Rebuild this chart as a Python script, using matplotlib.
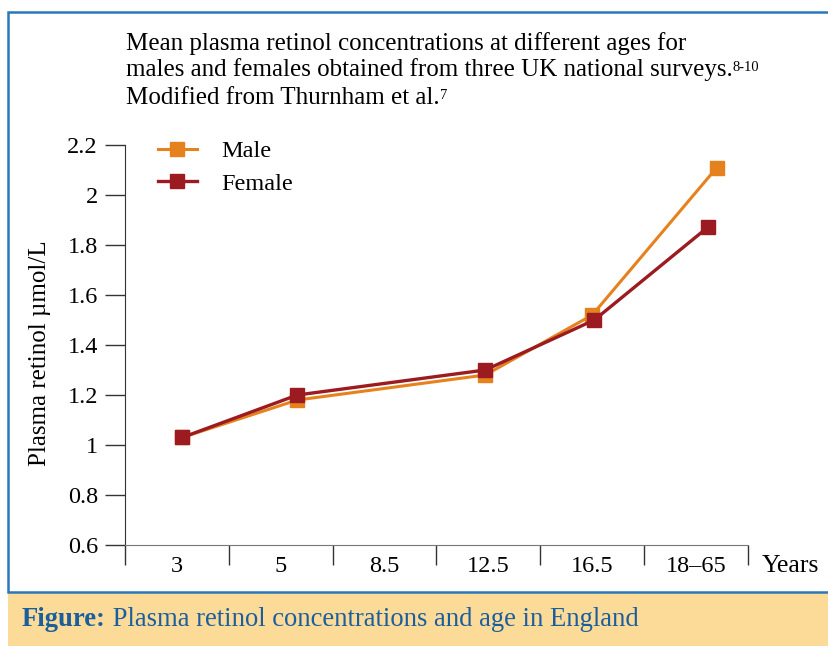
import matplotlib.pyplot as plt
from matplotlib.patches import Rectangle

plt.rcParams['font.family'] = ['Liberation Serif', 'DejaVu Serif']

# data
categories = ['3', '5', '8.5', '12.5', '16.5', '18–65']
male_x = [0.05, 1.16, 2.97, 4.0, 5.2]
male_y = [1.03, 1.18, 1.28, 1.52, 2.11]
female_x = [0.05, 1.16, 2.97, 4.02, 5.11]
female_y = [1.03, 1.20, 1.30, 1.50, 1.87]
yticks = [0.6, 0.8, 1.0, 1.2, 1.4, 1.6, 1.8, 2.0, 2.2]
ytick_labels = ['0.6', '0.8', '1', '1.2', '1.4', '1.6', '1.8', '2', '2.2']

ORANGE = '#E5821E'
RED = '#9B1B20'
BLUE = '#2A78BA'
CAP_BLUE = '#1A5E9E'
W, H = 829, 646

fig = plt.figure(figsize=(W / 100, H / 100), dpi=100)

# frame and caption band
fig.patches.append(Rectangle((8 / W, 0), 1, 54 / H, transform=fig.transFigure,
                             facecolor='#FCDB98', edgecolor='none', zorder=0))
fig.patches.append(Rectangle((8 / W, 1 - 592 / H), 1, (592 - 12) / H, transform=fig.transFigure,
                             facecolor='white', edgecolor=BLUE, lw=1.8, zorder=0))

ax = fig.add_axes([125 / W, 1 - 545 / H, (748 - 125) / W, 400 / H])
ax.set_zorder(2)
ax.patch.set_visible(False)
ax.plot(male_x, male_y, color=ORANGE, lw=2.2, marker='s', ms=9.5, label='Male', zorder=3)
ax.plot(female_x, female_y, color=RED, lw=2.4, marker='s', ms=9.5, label='Female', zorder=4)

ax.set_xlim(-0.5, len(categories) - 0.5)
ax.set_ylim(0.6, 2.2)
ax.set_yticks(yticks)
ax.set_yticklabels(ytick_labels)
ax.set_xticks(range(len(categories)))
ax.set_xticklabels(categories)
ax.set_xticks([i - 0.5 for i in range(len(categories) + 1)], minor=True)
ax.tick_params(axis='x', which='major', length=0, pad=8, labelsize=17.5)
ax.tick_params(axis='x', which='minor', length=14.5, width=1, color='#333333', direction='out')
ax.tick_params(axis='y', length=14.5, width=1, color='#333333', pad=5, labelsize=17.5)
for s in ['top', 'right']:
    ax.spines[s].set_visible(False)
ax.spines['bottom'].set_color('#777777')
ax.spines['left'].set_color('#333333')

ax.set_ylabel('Plasma retinol µmol/L', fontsize=18, labelpad=12)
ax.yaxis.label.set_position((0, 0.48))

ax.text(762 / W, 1 - 566 / H, 'Years', transform=fig.transFigure, fontsize=18.5,
        va='center', ha='left')

leg = ax.legend(loc='upper left', bbox_to_anchor=(158 / W, 1 - 140 / H),
                bbox_transform=fig.transFigure, frameon=False, fontsize=17.5,
                handlelength=1.6, handletextpad=1.0, labelspacing=0.45,
                borderpad=0, borderaxespad=0)

# title lines
lines = ['Mean plasma retinol concentrations at different ages for',
         'males and females obtained from three UK national surveys.',
         'Modified from Thurnham et al.']
sups = [None, '8-10', '7']
ys = [44, 70, 98]
for txt, sup, y in zip(lines, sups, ys):
    t = fig.text(126 / W, 1 - y / H, txt, fontsize=18, va='center', ha='left', zorder=3)
    if sup:
        ax.annotate(sup, xy=(1, 0.9), xycoords=t, fontsize=10.5, va='top', ha='left',
                    annotation_clip=False)

# caption
c = fig.text(22 / W, 1 - 620 / H, 'Figure:', fontsize=19.2, fontweight='bold',
             color=CAP_BLUE, va='center', ha='left', zorder=3)
ax.annotate(' Plasma retinol concentrations and age in England', xy=(1, 0), xycoords=c,
            fontsize=19.2, color=CAP_BLUE, va='bottom', ha='left', annotation_clip=False)

fig.savefig('out.png', dpi=100)
